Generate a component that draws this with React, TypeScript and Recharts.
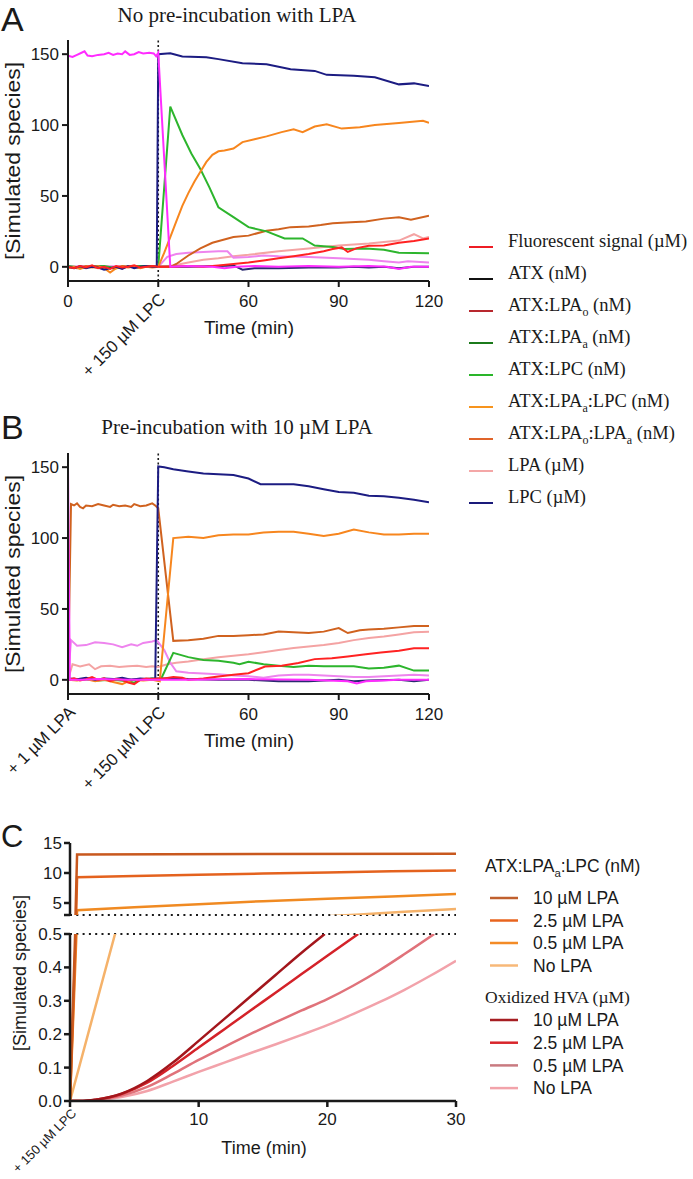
import React from "react";
import { LineChart, Line, XAxis, YAxis, ReferenceLine } from "recharts";

type Pt = [number, number];

const SANS = "'Liberation Sans', Arial, sans-serif";
const SERIF = "'Liberation Serif', 'Times New Roman', serif";
const INK = "#1a1a1a";

// ---- ticks ----
const AB_TIME_TICKS = [0, 30, 60, 90, 120];
const AB_Y_TICKS = [0, 50, 100, 150];
const C_TIME_TICKS = [0, 10, 20, 30];
const C_TOP_TICKS = [3, 5, 10, 15];
const C_BOTTOM_TICKS = [0, 0.1, 0.2, 0.3, 0.4, 0.5];

// ---- panel A: no pre-incubation ----
const A_FLUOR: Pt[] = [[0,0],[2,-1],[4,0.5],[6,-0.5],[8,1],[10,-1],[12,0],[14,-1.5],[16,0.5],[18,-0.5],[20,0],[22,1],[24,-0.5],[26,0],[28,0.5],[30,0],[35,0],[40,0.5],[45,0],[50,1],[55,2],[60,3],[65,4.5],[70,6],[75,7.5],[80,9],[85,11],[88,12.5],[91,13.7],[93,10.5],[96,13.2],[100,14.8],[105,15],[110,17],[115,18.2],[120,20]];
const A_ATX: Pt[] = [[0,149],[1.5,148],[3,149.5],[4.5,151],[5.5,152],[6.5,149],[8,148.5],[10,149.5],[12,150],[13.5,151],[15,149.5],[16.5,150.5],[18,150],[19,152],[20.5,149.5],[22,150],[23.5,151.5],[25,150.5],[27,151],[28.5,150.5],[29.3,148.5],[30,151],[34,0],[40,0.5],[48,0],[52,-1],[56,0],[62,0.5],[70,0],[80,0.5],[90,0],[100,0.5],[106,0],[110,-1.5],[114,0],[120,0]];
const A_LPAO: Pt[] = [[0,0],[5,-0.5],[10,0.5],[15,-1],[20,0],[25,0.5],[30,0],[40,0],[50,0.5],[55,1],[58,-2],[62,-1],[70,-1],[80,-0.5],[90,-0.5],[95,0],[100,-0.5],[105,0],[110,-1],[115,0],[120,0]];
const A_LPAA: Pt[] = [[0,0],[10,0.5],[20,0],[30,0],[33,7],[36,9],[40,10],[45,10.5],[50,11],[53,11],[55,6.5],[60,7],[65,8],[70,7.5],[80,7],[90,6],[95,5.5],[100,5],[105,4],[110,3],[113,4],[120,3]];
const A_ATXLPC: Pt[] = [[0,0.5],[4,-0.5],[8,0],[12,0.5],[16,-1],[20,0],[24,0.5],[28,0],[30,0],[34,113],[38,93],[41,80],[44,69],[47,56],[50,42],[55,35],[60,28],[66,25],[72,20],[78,20],[82,15],[88,14],[92,12.5],[99,13],[105,12],[110,10],[120,9.5]];
const A_ALC: Pt[] = [[0,-1],[2,0],[4,-1.5],[6,0],[8,-0.5],[10,0.5],[12,-1],[14,-4],[16,-1],[18,0],[20,-0.5],[22,0],[24,-1],[26,0],[28,-0.5],[30,0],[32,10],[34,21],[36,32],[38,43],[40,52],[42,60],[44,67],[46,74],[48,79],[50,81.5],[52,82],[55,83.5],[58,88],[62,90],[66,92],[71,95],[75,97],[78,95],[82,99],[86,100.5],[91,97.5],[97,98.5],[102,100],[110,101.5],[118,103],[120,101.5]];
const A_ALA: Pt[] = [[0,0],[3,-1],[6,0.5],[9,-0.5],[12,0],[15,-1],[18,0.5],[21,0],[24,-0.5],[27,0.5],[30,0],[34,0],[36,2],[38,5],[40,8],[44,13],[48,17],[55,21],[60,22],[66,25.5],[70,26.5],[74,28],[80,28.5],[84,29.5],[88,30.7],[94,31.5],[99,32],[105,34],[110,35],[114,33.3],[120,36]];
const A_LPA: Pt[] = [[0,0],[30,0],[35,1],[40,3],[45,5],[50,6],[55,7.5],[60,8.5],[70,11],[80,13],[90,15],[100,16.5],[110,18.5],[115,23],[118,20],[120,21]];
const A_LPC: Pt[] = [[0,0],[2,-1],[4,0.5],[6,-1],[8,0],[10,-0.5],[12,-2],[14,-1],[16,0],[18,-1.5],[20,0.5],[22,-1],[24,0],[26,0.5],[28,0],[29.5,0],[30,150],[34,150.7],[38,148.4],[46,147.9],[50,146.5],[58,143.6],[66,142.9],[74,139.4],[82,138.2],[86,135.4],[95,134.7],[102,133.7],[110,128.7],[115,129.4],[120,127.6]];

// ---- panel B: pre-incubation with LPA ----
const B_FLUOR: Pt[] = [[0,0],[2,1],[4,-0.5],[6,0.5],[8,2],[10,0],[12,1],[14,-1],[16,0.5],[18,0],[20,-2],[22,-3],[24,0],[26,1],[28,0.5],[30,1],[32,1],[35,2],[38,1.5],[40,0],[45,1],[50,2.4],[55,3.5],[60,4.7],[65.5,9.4],[71,9.9],[76.6,11.8],[82,14.6],[87.7,15.3],[93,16.5],[99,18.1],[104,19.3],[110,20.5],[115,22.3],[120,22.3]];
const B_ATX: Pt[] = [[0,150],[0.6,0],[5,0],[10,0.5],[20,0],[30,0],[40,0],[60,0.5],[80,0],[93,-1],[96,-2.5],[99,-1],[110,0],[120,0]];
const B_LPAO: Pt[] = [[0,0],[10,0.5],[20,0],[30,1],[35,1],[40,0.5],[50,0],[60,0],[70,-1],[80,-1],[90,0],[95,-1],[100,-0.5],[110,0],[115,-1],[120,0]];
const B_LPAA: Pt[] = [[0,0],[1,28],[3,24],[6,24.5],[9,26.5],[12,26],[15,25],[18,23],[21,25],[23,24],[25,26],[28,27],[29.5,28],[32,21],[34,12],[36,6],[40,5],[45,4.5],[50,4],[55,3],[60,2.5],[65,1.5],[70,3],[75,3.5],[80,3.5],[85,3],[90,2.5],[95,2],[100,2],[105,2.5],[110,3],[115,3.5],[120,3]];
const B_ATXLPC: Pt[] = [[0,0],[5,0.5],[10,-0.5],[15,0],[20,-1],[22,-2],[24,0],[28,1],[30,0],[31,1],[35,19],[40,16],[45,14],[50,13.5],[55,12],[57,11],[60,12.8],[65,11],[70,10],[75,9],[80,10],[85,9.5],[90,9.5],[95,9.5],[100,8],[105,8.5],[110,10],[115,6.5],[120,6.5]];
const B_ALC: Pt[] = [[0,0],[3,-0.5],[6,0.5],[9,-1],[12,0],[15,-1.5],[18,-3],[20,-1],[22,0],[25,-0.5],[28,0],[30.5,-1],[35,100],[40,101],[45,100],[50,102],[55,102.5],[60,102.5],[65,104],[70,104.5],[75,104.5],[80,103],[85,101.5],[90,103],[95,106],[100,104],[105,102.5],[110,102.5],[115,103],[120,103]];
const B_ALA: Pt[] = [[0,0],[1,124],[2,123],[3,124.5],[4,122],[5,121],[6,123],[8,122.5],[10,124],[12,123],[14,122],[15,123.5],[17,122.5],[19,123],[21,122],[22,124],[24,122.5],[26,123],[28,124.5],[29,123],[30,121],[35,27.5],[40,28],[45,29],[50,31],[55,31],[60,31.5],[65,32],[70,34],[75,33.5],[80,33],[85,34],[90,36.5],[93,33],[97,35],[100,35.5],[105,36],[110,37],[115,38],[120,38]];
const B_LPA: Pt[] = [[0,0],[1.5,11],[4,9.5],[7,11],[9,7.5],[11,9.5],[14,10],[17,9],[20,9.5],[23,10],[26,9],[28,9.5],[30,9],[33,11],[36,12],[40,13],[45,14.5],[50,16],[55,17],[60,18],[65,19.5],[70,21],[75,22.5],[80,23.5],[85,24.5],[90,26],[95,28],[100,29.5],[105,30.5],[110,32],[115,33.5],[120,34]];
const B_LPC: Pt[] = [[0,1],[3,0.5],[6,1.5],[9,0],[12,1],[15,0.5],[18,1.5],[21,0],[24,1],[27,0.5],[29,1],[30,150.5],[32,150],[35,148.5],[40,147],[45,145.5],[50,145],[55,144.5],[60,142],[64,138],[70,138],[75,138],[80,136.5],[85,134.5],[90,132.5],[95,132],[100,129.8],[105,129.5],[110,128.5],[115,127],[120,125.3]];

// ---- panel C: ATX:LPAa:LPC (nM) and oxidized HVA (uM) ----
const C_ALC_10: Pt[] = [[0,0],[0.4,0.5],[0.55,13.1],[30,13.2]];
const C_ALC_2_5: Pt[] = [[0,0],[0.45,0.5],[0.55,9.3],[5,9.5],[10,9.7],[15,9.9],[20,10.1],[25,10.3],[30,10.4]];
const C_ALC_0_5: Pt[] = [[0,0],[0.5,0.5],[0.55,3.8],[5,4.3],[10,4.8],[15,5.3],[20,5.7],[25,6.1],[30,6.5]];
const C_ALC_NONE: Pt[] = [[0,0],[3.5,0.5],[10,1.4],[20,2.8],[22.5,3.1],[26,3.55],[30,4.0]];
const C_HVA_10: Pt[] = [[0,0],[1,0],[2,0.004],[4,0.022],[6,0.06],[8,0.115],[10,0.18],[12,0.246],[14,0.312],[16,0.378],[18,0.444],[19.8,0.5]];
const C_HVA_2_5: Pt[] = [[0,0],[1,0],[2,0.004],[4,0.021],[6,0.055],[8,0.105],[10,0.16],[12,0.215],[14,0.27],[16,0.325],[18,0.38],[20,0.435],[22.4,0.5]];
const C_HVA_0_5: Pt[] = [[0,0],[1,0],[2,0.003],[4,0.016],[6,0.042],[8,0.081],[10,0.123],[12,0.162],[14,0.2],[16,0.236],[18,0.271],[20,0.305],[22,0.345],[24,0.39],[26,0.44],[28.3,0.5]];
const C_HVA_NONE: Pt[] = [[0,0],[1,0],[2,0.002],[4,0.012],[6,0.03],[8,0.058],[10,0.087],[12,0.115],[14,0.143],[16,0.17],[18,0.198],[20,0.227],[22,0.26],[24,0.295],[26,0.333],[28,0.375],[30,0.42]];

// ---- colours ----
const COL = {
  fluor: "#ff2222",
  atx: "#ff2cff",
  lpao: "#2a2a70",
  lpaa: "#ee84ee",
  atxlpc: "#2db52d",
  alc: "#f7861e",
  ala: "#d0621f",
  lpa: "#f4a3a3",
  lpc: "#1c1c82",
};

type Series = { name: string; color: string; pts: Pt[]; smooth?: boolean };

const seriesAB = (d: Record<string, Pt[]>): Series[] => [
  { name: "LPA", color: COL.lpa, pts: d.lpa },
  { name: "ATX:LPAa", color: COL.lpaa, pts: d.lpaa },
  { name: "ATX:LPAo", color: COL.lpao, pts: d.lpao },
  { name: "ATX:LPAo:LPAa", color: COL.ala, pts: d.ala },
  { name: "ATX:LPC", color: COL.atxlpc, pts: d.atxlpc },
  { name: "ATX:LPAa:LPC", color: COL.alc, pts: d.alc },
  { name: "LPC", color: COL.lpc, pts: d.lpc },
  { name: "Fluorescent signal", color: COL.fluor, pts: d.fluor },
  { name: "ATX", color: COL.atx, pts: d.atx },
];

const SERIES_A = seriesAB({ fluor: A_FLUOR, atx: A_ATX, lpao: A_LPAO, lpaa: A_LPAA, atxlpc: A_ATXLPC, alc: A_ALC, ala: A_ALA, lpa: A_LPA, lpc: A_LPC });
const SERIES_B = seriesAB({ fluor: B_FLUOR, atx: B_ATX, lpao: B_LPAO, lpaa: B_LPAA, atxlpc: B_ATXLPC, alc: B_ALC, ala: B_ALA, lpa: B_LPA, lpc: B_LPC });

const SERIES_C: Series[] = [
  { name: "HVA none", color: "#f2a2aa", pts: C_HVA_NONE, smooth: true },
  { name: "HVA 0.5", color: "#e0727a", pts: C_HVA_0_5, smooth: true },
  { name: "HVA 2.5", color: "#d42229", pts: C_HVA_2_5, smooth: true },
  { name: "HVA 10", color: "#a3161c", pts: C_HVA_10, smooth: true },
  { name: "ALC none", color: "#f5b26a", pts: C_ALC_NONE },
  { name: "ALC 0.5", color: "#f08a22", pts: C_ALC_0_5 },
  { name: "ALC 2.5", color: "#e4621e", pts: C_ALC_2_5 },
  { name: "ALC 10", color: "#c8581e", pts: C_ALC_10 },
];

// legend entries: [text, subscript?]
type Seg = [string, boolean];
const LEGEND_AB: { label: Seg[]; color: string }[] = [
  { label: [["Fluorescent signal (\u00b5M)", false]], color: "#ee1c24" },
  { label: [["ATX (nM)", false]], color: "#111111" },
  { label: [["ATX:LPA", false], ["o", true], [" (nM)", false]], color: "#b8282e" },
  { label: [["ATX:LPA", false], ["a", true], [" (nM)", false]], color: "#1b7a1b" },
  { label: [["ATX:LPC (nM)", false]], color: "#2ab52a" },
  { label: [["ATX:LPA", false], ["a", true], [":LPC (nM)", false]], color: "#f7941d" },
  { label: [["ATX:LPA", false], ["o", true], [":LPA", false], ["a", true], [" (nM)", false]], color: "#e0642a" },
  { label: [["LPA (\u00b5M)", false]], color: "#f4a7a7" },
  { label: [["LPC (\u00b5M)", false]], color: "#1a1a7a" },
];
const LEGEND_C_ALC = [
  { label: "10 \u00b5M LPA", color: "#c0602e" },
  { label: "2.5 \u00b5M LPA", color: "#e8641e" },
  { label: "0.5 \u00b5M LPA", color: "#f38b26" },
  { label: "No LPA", color: "#f7b878" },
];
const LEGEND_C_HVA = [
  { label: "10 \u00b5M LPA", color: "#a61e22" },
  { label: "2.5 \u00b5M LPA", color: "#d8252b" },
  { label: "0.5 \u00b5M LPA", color: "#c97a80" },
  { label: "No LPA", color: "#f2a3aa" },
];

const toRows = (pts: Pt[]) => pts.map(([t, v]) => ({ t, v }));

const axisStyle = { stroke: INK, strokeWidth: 2 };

function TimeTick(props: any) {
  const { x, y, payload, rotated, size, rotSize, lift = 0 } = props;
  const lab = rotated[payload.value];
  if (lab) {
    return (
      <text
        transform={`translate(${x + 4},${y + 1 - lift}) rotate(-45)`}
        textAnchor="end"
        dy="0.35em"
        fontSize={rotSize}
        fontFamily={SANS}
        fill={INK}
      >
        {lab}
      </text>
    );
  }
  return (
    <text x={x} y={y} dy="0.71em" textAnchor="middle" fontSize={size} fontFamily={SANS} fill={INK}>
      {payload.value}
    </text>
  );
}

function KineticsChart({ top, series, rotated }: { top: number; series: Series[]; rotated: Record<number, string> }) {
  return (
    <div style={{ position: "absolute", left: 0, top }}>
      <LineChart width={460} height={380} margin={{ top: 40, right: 31, left: 8, bottom: 59 }}>
        <XAxis
          type="number"
          dataKey="t"
          domain={[0, 120]}
          ticks={AB_TIME_TICKS}
          interval={0}
          allowDataOverflow
          height={40}
          tickSize={6}
          tickMargin={8}
          axisLine={axisStyle}
          tickLine={axisStyle}
          tick={(p: any) => <TimeTick {...p} rotated={rotated} size={17} rotSize={17} />}
        />
        <YAxis
          type="number"
          domain={[-10, 160]}
          ticks={AB_Y_TICKS}
          interval={0}
          allowDataOverflow
          width={60}
          tickSize={6}
          tickMargin={3}
          axisLine={axisStyle}
          tickLine={axisStyle}
          tick={{ fontSize: 17, fill: INK, fontFamily: SANS }}
        />
        <ReferenceLine x={30} stroke={INK} strokeDasharray="2 2.5" strokeWidth={1.6} />
        {series.map((s) => (
          <Line
            key={s.name}
            data={toRows(s.pts)}
            dataKey="v"
            name={s.name}
            type="linear"
            stroke={s.color}
            strokeWidth={2}
            dot={false}
            activeDot={false}
            isAnimationActive={false}
          />
        ))}
      </LineChart>
    </div>
  );
}

function CLines() {
  return SERIES_C.map((s) => (
    <Line
      key={s.name}
      data={toRows(s.pts)}
      dataKey="v"
      name={s.name}
      type={s.smooth ? "monotone" : "linear"}
      stroke={s.color}
      strokeWidth={2.5}
      dot={false}
      activeDot={false}
      isAnimationActive={false}
    />
  ));
}

const cAxis = { stroke: INK, strokeWidth: 2.5 };

function PanelC() {
  return (
    <>
      <div style={{ position: "absolute", left: 0, top: 830 }}>
        <LineChart width={470} height={100} margin={{ top: 13, right: 14, left: 8, bottom: 15 }}>
          <XAxis type="number" dataKey="t" domain={[0, 30]} hide allowDataOverflow />
          <YAxis
            type="number"
            domain={[3, 15]}
            ticks={C_TOP_TICKS}
            interval={0}
            allowDataOverflow
            width={62}
            tickSize={6}
            tickMargin={2}
            axisLine={cAxis}
            tickLine={cAxis}
            tick={(p: any) =>
              p.payload.value === 3 ? (
                <g />
              ) : (
                <text x={p.x} y={p.y} dy="0.35em" textAnchor="end" fontSize={17} fontFamily={SANS} fill={INK}>
                  {p.payload.value}
                </text>
              )
            }
          />
          <ReferenceLine y={3} stroke={INK} strokeDasharray="2 4.3" strokeWidth={2} />
          {CLines()}
        </LineChart>
      </div>
      <div style={{ position: "absolute", left: 0, top: 920 }}>
        <LineChart width={470} height={259} margin={{ top: 14, right: 14, left: 8, bottom: 0 }}>
          <XAxis
            type="number"
            dataKey="t"
            domain={[0, 30]}
            ticks={C_TIME_TICKS}
            interval={0}
            allowDataOverflow
            height={78}
            tickSize={6}
            tickMargin={6}
            axisLine={cAxis}
            tickLine={cAxis}
            tick={(p: any) => <TimeTick {...p} rotated={{ 0: "+ 150 \u00b5M LPC" }} size={17} rotSize={13} lift={3} />}
          />
          <YAxis
            type="number"
            domain={[0, 0.5]}
            ticks={C_BOTTOM_TICKS}
            interval={0}
            allowDataOverflow
            width={62}
            tickSize={6}
            tickMargin={2}
            axisLine={cAxis}
            tickLine={cAxis}
            tickFormatter={(v: number) => v.toFixed(1)}
            tick={{ fontSize: 17, fill: INK, fontFamily: SANS }}
          />
          <ReferenceLine y={0.5} stroke={INK} strokeDasharray="2 4.3" strokeWidth={2} />
          {CLines()}
        </LineChart>
      </div>
    </>
  );
}

function SegText({ segs, x, y, size, family }: { segs: Seg[]; x: number; y: number; size: number; family: string }) {
  let shifted = false;
  return (
    <text x={x} y={y} dy="0.35em" fontSize={size} fontFamily={family} fill={INK}>
      {segs.map(([t, sub], i) => {
        let dy = 0;
        if (sub && !shifted) { dy = 5; shifted = true; }
        else if (!sub && shifted) { dy = -5; shifted = false; }
        return (
          <tspan key={i} dy={dy} fontSize={sub ? size * 0.65 : size}>
            {t}
          </tspan>
        );
      })}
    </text>
  );
}

function Overlay() {
  return (
    <svg width={693} height={1179} style={{ position: "absolute", left: 0, top: 0, pointerEvents: "none" }}>
      {/* panel A */}
      <text x={1} y={31} fontSize={34} fontFamily={SANS} fill={INK}>A</text>
      <text x={237} y={22} textAnchor="middle" fontSize={21} fontFamily={SERIF} fill={INK}>No pre-incubation with LPA</text>
      <text transform="translate(13,161) rotate(-90)" textAnchor="middle" dy="0.35em" fontSize={21} fontFamily={SANS} fill={INK} textLength={198} lengthAdjust="spacingAndGlyphs">[Simulated species]</text>
      <text x={249} y={334} textAnchor="middle" fontSize={19} fontFamily={SANS} fill={INK}>Time (min)</text>

      {/* panel B */}
      <text x={1} y={439} fontSize={34} fontFamily={SANS} fill={INK}>B</text>
      <text x={237} y={434} textAnchor="middle" fontSize={21} fontFamily={SERIF} fill={INK}>Pre-incubation with 10 {"\u00b5"}M LPA</text>
      <text transform="translate(13,574) rotate(-90)" textAnchor="middle" dy="0.35em" fontSize={21} fontFamily={SANS} fill={INK} textLength={198} lengthAdjust="spacingAndGlyphs">[Simulated species]</text>
      <text x={249} y={747} textAnchor="middle" fontSize={19} fontFamily={SANS} fill={INK}>Time (min)</text>

      {/* panel C */}
      <text x={1} y={847} fontSize={31} fontFamily={SANS} fill={INK}>C</text>
      <text transform="translate(20,973) rotate(-90)" textAnchor="middle" dy="0.35em" fontSize={18} fontFamily={SANS} fill={INK}>[Simulated species]</text>
      <text x={264} y={1154} textAnchor="middle" fontSize={18} fontFamily={SANS} fill={INK}>Time (min)</text>

      {/* legend A/B */}
      {LEGEND_AB.map((it, i) => {
        const y = 247 + i * 32;
        return (
          <g key={i}>
            <line x1={469} x2={493} y1={y} y2={y} stroke={it.color} strokeWidth={2} />
            <SegText segs={it.label} x={508} y={y} size={18.5} family={SERIF} />
          </g>
        );
      })}

      {/* legend C */}
      <SegText segs={[["ATX:LPA", false], ["a", true], [":LPC (nM)", false]]} x={485} y={872} size={17.5} family={SANS} />
      {LEGEND_C_ALC.map((it, i) => {
        const y = 898 + i * 22.5;
        return (
          <g key={i}>
            <line x1={490} x2={518} y1={y} y2={y} stroke={it.color} strokeWidth={2.5} />
            <text x={533} y={y} dy="0.35em" fontSize={17.5} fontFamily={SANS} fill={INK}>{it.label}</text>
          </g>
        );
      })}
      <text x={485} y={997} dy="0.35em" fontSize={17.5} fontFamily={SERIF} fill={INK}>Oxidized HVA ({"\u00b5"}M)</text>
      {LEGEND_C_HVA.map((it, i) => {
        const y = 1020 + i * 22.7;
        return (
          <g key={i}>
            <line x1={490} x2={518} y1={y} y2={y} stroke={it.color} strokeWidth={2.5} />
            <text x={533} y={y} dy="0.35em" fontSize={17.5} fontFamily={SANS} fill={INK}>{it.label}</text>
          </g>
        );
      })}
    </svg>
  );
}

export default function App() {
  return (
    <div style={{ position: "absolute", left: 0, top: 0, width: 693, height: 1179, background: "#fff", overflow: "hidden" }}>
      <KineticsChart top={0} series={SERIES_A} rotated={{ 30: "+ 150 \u00b5M LPC" }} />
      <KineticsChart top={413} series={SERIES_B} rotated={{ 0: "+ 1 \u00b5M LPA", 30: "+ 150 \u00b5M LPC" }} />
      <PanelC />
      <Overlay />
    </div>
  );
}
